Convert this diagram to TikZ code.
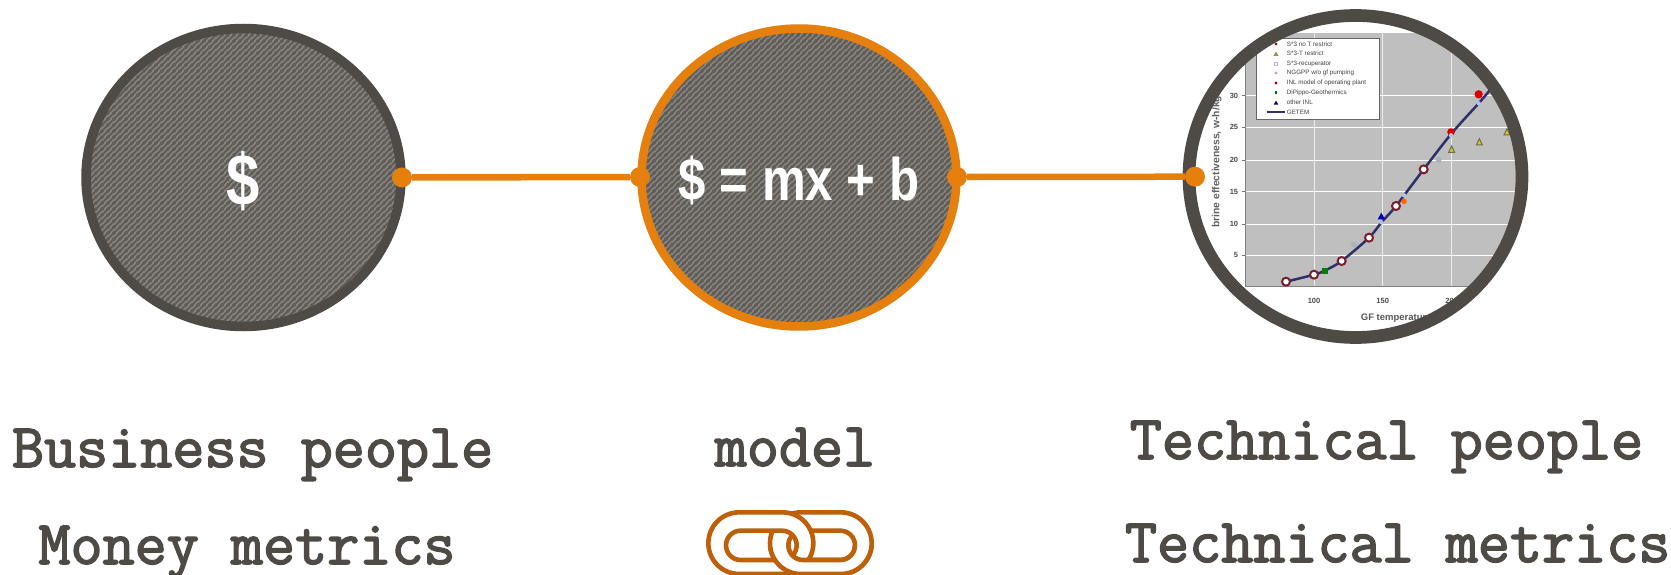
\documentclass[tikz,border=0pt]{standalone}
\usepackage{fontspec}
\setmainfont{Liberation Sans}
\newfontfamily\condf[FakeStretch=0.82]{Liberation Sans Bold}
\newfontfamily\slabf[FakeBold=2.4]{Latin Modern Mono}
\usetikzlibrary{shapes.geometric,patterns}
\definecolor{dk}{HTML}{4E4A45}
\definecolor{org}{HTML}{E5800F}
\definecolor{lnk}{HTML}{BE5F0A}
\definecolor{hbase}{HTML}{87847F}
\definecolor{hline}{HTML}{5F5B57}
\definecolor{chartbg}{HTML}{BFBFBF}
\definecolor{crv}{HTML}{2F2F6E}
\definecolor{mar}{HTML}{7A1F2B}
\pgfdeclarepatternformonly{hatchp}{\pgfqpoint{0pt}{0pt}}{\pgfqpoint{6pt}{6pt}}{\pgfqpoint{6pt}{6pt}}{%
  \pgfsetlinewidth{2.1pt}\pgfpathmoveto{\pgfqpoint{-1pt}{-1pt}}\pgfpathlineto{\pgfqpoint{7pt}{7pt}}\pgfusepath{stroke}%
  \pgfpathmoveto{\pgfqpoint{-4pt}{2pt}}\pgfpathlineto{\pgfqpoint{2pt}{8pt}}\pgfusepath{stroke}%
  \pgfpathmoveto{\pgfqpoint{2pt}{-4pt}}\pgfpathlineto{\pgfqpoint{8pt}{2pt}}\pgfusepath{stroke}}
\tikzset{
  disc/.style={ellipse,draw,minimum width=315pt,minimum height=298pt,inner sep=0pt,line width=9.5pt,
    preaction={fill=hbase},pattern=hatchp,pattern color=hline},
  dot/.style={circle,fill=org,minimum size=20pt,inner sep=0pt},
  lnkline/.style={draw=org,line width=6.5pt},
  lab/.style={font=\slabf\fontsize{62.3}{62.3}\selectfont,text=dk,anchor=base},
  gem/.style={circle,draw=mar,fill=white,line width=2pt,minimum size=8pt,inner sep=0pt},
  lgd/.style={font=\fontsize{6.3}{7}\selectfont,text=black!75,anchor=west,inner sep=0pt},
  tick/.style={font=\bfseries\fontsize{7.5}{8}\selectfont,text=black!70,inner sep=0pt},
}
\begin{document}
\begin{tikzpicture}[x=1pt,y=-1pt]
\useasboundingbox (0,0) rectangle (1671,575);
% discs
\node[disc,draw=dk] (money) at (243.5,177.5) {};
\node[font=\condf\fontsize{73}{73}\selectfont,text=white] (dollar) at (243.5,181) {\$};
\node[disc,draw=org,line width=8.5pt] (model) at (799,177.5) {};
\node[font=\condf\fontsize{60}{60}\selectfont,text=white] (eqn) at (799,180) {\$ = mx + b};
% chart
\begin{scope}
\clip (1355.5,176.5) ellipse [x radius=168,y radius=163];
\begin{scope}[x=0.33333pt,y=-0.33333pt,shift={(1170pt,0pt)}]
\fill[white] (0,0) rectangle (1140,1050);
\fill[chartbg] (225,97) rectangle (1140,860);
\draw[white,line width=0.9pt] (225,97) -- (1140,97);
\foreach \yy in {287,382,480,575,672,765} \draw[white,line width=0.8pt] (225,\yy) -- (1140,\yy);
\foreach \xx in {432,638,845} \draw[white!70!chartbg,line width=0.7pt] (\xx,97) -- (\xx,860);
\draw[black!50,line width=0.7pt] (225,97) -- (225,860) -- (1140,860);
\foreach \yy/\tt in {287/30,382/25,480/20,575/15,672/10,765/5} {
  \draw[black!55,line width=0.6pt] (215,\yy) -- (225,\yy);
  \node[tick,anchor=east] at (205,\yy) {\tt};
}
\foreach \xx/\tt in {432/100,638/150,845/200} \node[tick] at (\xx,902) {\tt};
\node[font=\bfseries\fontsize{10.3}{11}\selectfont,text=black!62,rotate=90,inner sep=0pt] at (140,485) {brine effectiveness, w-h/kg};
\node[font=\bfseries\fontsize{9.5}{10}\selectfont,text=black!65,anchor=west,inner sep=0pt] at (572,955) {GF temperature};
% legend
\draw[black!60,fill=white,line width=1pt] (258,117) rectangle (628,360);
\foreach \yy/\tt in {132/{S*3 no T restrict},160/{S*3-T restrict},191/{S*3-recuperator},219/{NGGPP w/o gf pumping},249/{INL model of operating plant},278/{DiPippo-Geothermics},308/{other INL},336/{GETEM}}
  \node[lgd] at (350,\yy) {\tt};
\fill[mar] (318,132) circle (1.7pt);
\fill[yellow!55!black] (318,155) -- (326,168) -- (310,168) -- cycle;
\draw[blue!30,line width=0.5pt] (314,187) rectangle (322,195);
\fill[mar!40!white] (318,219) circle (1.6pt);
\fill[red!70!black] (318,249) circle (1.6pt);
\fill[green!45!black] (314,274) rectangle (322,282);
\fill[blue!60!black] (318,302) -- (325,314) -- (311,314) -- cycle;
\draw[crv,line width=1.8pt] (292,336) -- (346,336);
% curve
\draw[crv,line width=2.5pt,line join=round] plot[smooth,tension=0.5] coordinates {(348,845) (432,824) (464,812) (515,783) (597,713) (636,665) (678,618) (761,508) (845,400) (926,310) (960,270)};
% markers
\foreach \xx/\yy in {552/734,806/480} \fill[black!30,draw=cyan!30!black!45] (\xx,\yy) circle (2.6pt);
\fill[red!85!black] (926,283) circle (4.2pt);
\fill[red!85!black] (843,396) circle (3.8pt);
\foreach \xx/\yy in {926/310,843/406,634/667,702/586} \fill[cyan!20!white!85!blue] (\xx,\yy) circle (2.2pt);
\foreach \xx/\yy in {348/845,432/824,515/783,597/713,678/618,761/508} \node[gem] at (\xx,\yy) {};
\fill[green!50!black] (455,804) rectangle (473,822);
\fill[blue!75!black] (634,638) -- (645,658) -- (623,658) -- cycle;
\fill[orange!80!red] (702,604) circle (2.8pt);
\foreach \xx/\yy in {845/448,928/426,1011/396} \draw[black!60!yellow!90!black,fill=yellow!80!black,line width=1pt] (\xx,\yy-10) -- (\xx+9,\yy+9) -- (\xx-9,\yy+9) -- cycle;
\end{scope}
\end{scope}
\node[ellipse,draw=dk,line width=12.7pt,minimum width=333pt,minimum height=322pt,inner sep=0pt] (tech) at (1355.5,176.5) {};
% connectors
\node[dot] (d1) at (402,177.5) {};
\node[dot] (d2) at (640,177) {};
\node[dot] (d3) at (957,177) {};
\node[dot] (d4) at (1195,176.7) {};
\draw[lnkline] (d1) -- (d2);
\draw[lnkline] (d3) -- (d4);
% labels
\node[lab] (t1) at (252.6,467) {Business people};
\node[lab] (t2) at (247,564) {Money metrics};
\node[lab] (t3) at (795,466) {model};
\node[lab] (t4) at (1386.5,459) {Technical people};
\node[lab] (t5) at (1397.7,562) {Technical metrics};
% link icon
\begin{scope}[x=0.33333pt,y=-0.33333pt,shift={(690pt,-500pt)}]
\newcommand{\stad}[4]{\draw[lnk,fill=white,even odd rule,line width=4.6pt]
  (#1+92.5,37) arc[start angle=270,end angle=90,radius=92.5] -- (#2-92.5,222) arc[start angle=90,end angle=-90,radius=92.5] -- cycle
  (#3+44,92) arc[start angle=270,end angle=90,radius=44] -- (#4-44,180) arc[start angle=90,end angle=-90,radius=44] -- cycle;}
\stad{240}{545}{295}{495}
\stad{55}{370}{108}{320}
\begin{scope}
\clip (200,136) rectangle (600,240);
\stad{240}{545}{295}{495}
\end{scope}
\end{scope}
\end{tikzpicture}
\end{document}
